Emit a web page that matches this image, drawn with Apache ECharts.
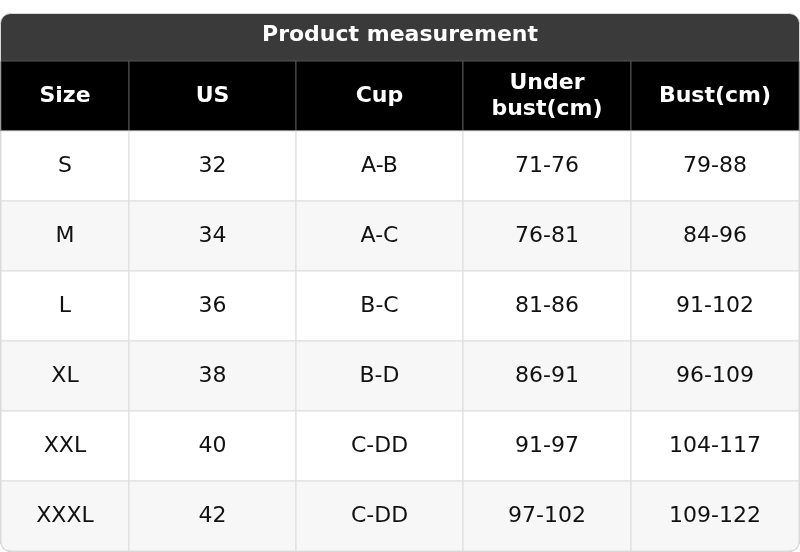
<!DOCTYPE html>
<html><head><meta charset="utf-8">
<script src="https://cdn.jsdelivr.net/npm/echarts@6/dist/echarts.min.js"></script>
<style>html,body{margin:0;padding:0;background:#fff}#c{width:800px;height:552px}</style>
</head><body><div id="c"></div>
<script>
const title = 'Product measurement';
const headers = ['Size', 'US', 'Cup', 'Under\nbust(cm)', 'Bust(cm)'];
const sizes = ['S', 'M', 'L', 'XL', 'XXL', 'XXXL'];
const us = ['32', '34', '36', '38', '40', '42'];
const cups = ['A-B', 'A-C', 'B-C', 'B-D', 'C-DD', 'C-DD'];
const underBust = ['71-76', '76-81', '81-86', '86-91', '91-97', '97-102'];
const bust = ['79-88', '84-96', '91-102', '96-109', '104-117', '109-122'];

const colEdges = [1, 129, 296, 463, 631, 799];
const columns = [sizes, us, cups, underBust, bust];
const rowsCat = ['h'].concat(sizes.map((s, i) => 'r' + i));
const data = [];
headers.forEach((h, c) => data.push([c, 0, h]));
sizes.forEach((s, r) => columns.forEach((col, c) => data.push([c, r + 1, col[r]])));

const chart = echarts.init(document.getElementById('c'));
chart.setOption({
  animation: false,
  grid: {left: 0, right: 0, top: 61, bottom: 1},
  xAxis: {type: 'value', min: 0, max: 1, show: false},
  yAxis: {type: 'category', data: rowsCat, inverse: true, show: false},
  graphic: [
    {type: 'rect', shape: {x: 0.5, y: 13.5, width: 799, height: 538, r: 10}, style: {fill: '#3a3a3a', stroke: '#d8d8d8', lineWidth: 1}, z: -10},
    {type: 'text', left: 'center', top: 24, style: {text: title, font: 'bold 22px "DejaVu Sans"', fill: '#fff'}, z: 10}
  ],
  series: [{
    type: 'custom',
    data: data,
    renderItem: function (params, api) {
      const c = api.value(0), r = api.value(1);
      const txt = data[params.dataIndex][2];
      const yc = api.coord([0, r])[1];
      const h = api.size([0, 1])[1];
      const x0 = colEdges[c], x1 = colEdges[c + 1];
      const header = r === 0;
      const fill = header ? '#000' : (r % 2 === 1 ? '#fff' : '#f7f7f7');
      const last = r === 6;
      const children = [{
        type: 'rect',
        shape: {x: x0, y: yc - h / 2, width: x1 - x0, height: h, r: last ? (c === 0 ? [0, 0, 0, 9] : c === 4 ? [0, 0, 9, 0] : 0) : 0},
        style: {fill: fill, stroke: header ? '#555' : '#dcdcdc', lineWidth: 1}
      }, {
        type: 'text',
        x: (x0 + x1) / 2, y: yc,
        style: {text: txt, align: 'center', verticalAlign: 'middle', fill: header ? '#fff' : '#111',
          font: (header ? 'bold ' : '') + '22px "DejaVu Sans"', lineHeight: 26}
      }];
      return {type: 'group', children: children};
    }
  }]
});
</script></body></html>
